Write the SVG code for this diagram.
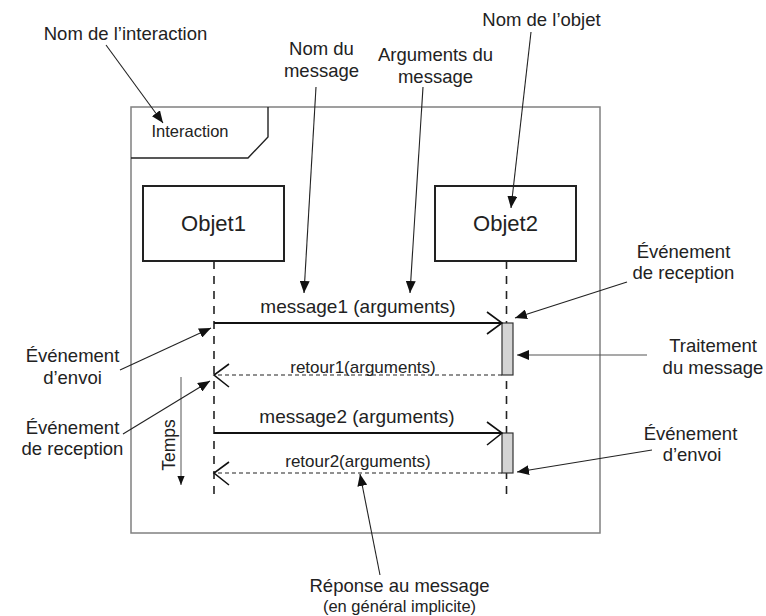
<svg xmlns="http://www.w3.org/2000/svg" width="766" height="616" viewBox="0 0 766 616">
<style>
text{font-family:"Liberation Sans",Arial,sans-serif;fill:#222}
.ann{font-size:18.5px;text-anchor:middle}
.msg{font-size:19px;text-anchor:middle}
.ret{font-size:17px;text-anchor:middle}
.obj{fill:#fff;stroke:#222;stroke-width:2}
.life{stroke:#222;stroke-width:1.6;stroke-dasharray:8 7;fill:none}
.call{stroke:#111;stroke-width:1.8;fill:none}
.back{stroke:#222;stroke-width:1.1;stroke-dasharray:4 3;fill:none}
.head{stroke:#111;stroke-width:1.6;fill:none}
.pt{stroke:#222;stroke-width:1.1;fill:none;marker-end:url(#ah)}
.bar{fill:#d4d4d4;stroke:#333;stroke-width:1.2}
</style>
<defs>
<marker id="ah" viewBox="0 0 12 10" refX="12" refY="5" markerWidth="12" markerHeight="10" markerUnits="userSpaceOnUse" orient="auto">
<path d="M0,0 L12,5 L0,10 Z" fill="#111"/>
</marker>
<marker id="ahs" viewBox="0 0 10 8" refX="10" refY="4" markerWidth="9" markerHeight="8" markerUnits="userSpaceOnUse" orient="auto">
<path d="M0,0 L10,4 L0,8 Z" fill="#111"/>
</marker>
</defs>

<g id="frame">
<rect x="131" y="107" width="469" height="426" fill="none" stroke="#808080" stroke-width="1.5"/>
<path d="M131,158 L248,158 L268,137 L268,107" fill="none" stroke="#222" stroke-width="1.4"/>
<text x="190" y="137" style="font-size:16.5px;text-anchor:middle">Interaction</text>
</g>

<g id="objet1">
<rect class="obj" x="143" y="186" width="141" height="75"/>
<text x="213.5" y="231" style="font-size:22px;text-anchor:middle">Objet1</text>
</g>
<g id="objet2">
<rect class="obj" x="435" y="186" width="141" height="75"/>
<text x="505.5" y="231" style="font-size:22px;text-anchor:middle">Objet2</text>
</g>

<g id="lifelines">
<line class="life" x1="214" y1="261" x2="214" y2="498"/>
<line class="life" x1="506.5" y1="261" x2="506.5" y2="498"/>
</g>

<g id="activations">
<rect class="bar" x="502" y="323" width="11" height="52"/>
<rect class="bar" x="502" y="433" width="11" height="40"/>
</g>

<g id="messages">
<line class="call" x1="214" y1="323" x2="502" y2="323"/>
<polyline class="head" points="487,312 502,323 487,334"/>
<text class="msg" x="358" y="313">message1 (arguments)</text>
<line class="back" x1="502" y1="375" x2="214" y2="375"/>
<polyline class="head" points="229,364 214,375 229,387"/>
<text class="ret" x="363" y="372.5">retour1(arguments)</text>
<line class="call" x1="214" y1="433" x2="502" y2="433"/>
<polyline class="head" points="487,422 502,433 487,445"/>
<text class="msg" x="357" y="423">message2 (arguments)</text>
<line class="back" x1="502" y1="473" x2="214" y2="473"/>
<polyline class="head" points="229,462 214,473 229,485"/>
<text class="ret" x="358" y="467">retour2(arguments)</text>
</g>

<g id="temps">
<line x1="181" y1="377" x2="181" y2="485" stroke="#555" stroke-width="1" marker-end="url(#ahs)"/>
<text transform="translate(175,445) rotate(-90)" style="font-size:17.5px;text-anchor:middle">Temps</text>
</g>

<g id="annotations">
<path class="pt" d="M106,45 L163,123"/>
<path class="pt" d="M316,87 L304,293"/>
<path class="pt" d="M423,87 L410,293"/>
<path class="pt" d="M531,32 L511,208"/>
<path class="pt" d="M120,370 L211,328"/>
<path class="pt" d="M123,434 L210,381"/>
<path class="pt" d="M627,282 L515,318"/>
<path class="pt" d="M647,355 L517,355" style="stroke:#555"/>
<path class="pt" d="M652,450 L517,472"/>
<path class="pt" d="M380,575 L360,474"/>
</g>

<g id="labels">
<text class="ann" x="125.5" y="40">Nom de l’interaction</text>
<text class="ann" x="321.5" y="55">Nom du</text>
<text class="ann" x="321.5" y="77">message</text>
<text class="ann" x="435.5" y="61">Arguments du</text>
<text class="ann" x="435.5" y="83">message</text>
<text class="ann" x="541.5" y="26">Nom de l’objet</text>
<text class="ann" x="683.5" y="258">Événement</text>
<text class="ann" x="683.5" y="279">de reception</text>
<text class="ann" x="713" y="352">Traitement</text>
<text class="ann" x="713" y="374">du message</text>
<text class="ann" x="690.5" y="440">Événement</text>
<text class="ann" x="692" y="461">d’envoi</text>
<text class="ann" x="72.5" y="362">Événement</text>
<text class="ann" x="72.5" y="384">d’envoi</text>
<text class="ann" x="72.5" y="434">Événement</text>
<text class="ann" x="72.5" y="455">de reception</text>
<text class="ann" x="399.5" y="592">Réponse au message</text>
<text x="399.5" y="612" style="font-size:16.5px;text-anchor:middle">(en général implicite)</text>
</g>
</svg>
